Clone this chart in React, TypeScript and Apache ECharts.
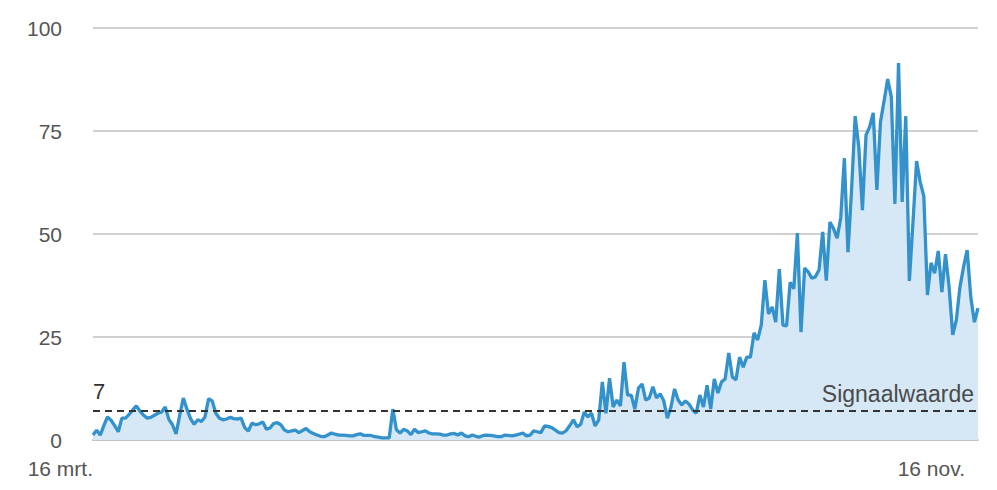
import React, { useEffect, useRef } from "react";
import * as echarts from "echarts";

const START_DATE = "2020-03-16";
const MONTHS_NL = ["jan.", "feb.", "mrt.", "apr.", "mei", "jun.", "jul.", "aug.", "sep.", "okt.", "nov.", "dec."];
const SHOWN_LABELS = ["16 mrt.", "16 nov."];
const Y_TICKS = [0, 25, 50, 75, 100];
const SIGNAL_VALUE = 7;
const SIGNAL_LABEL = "Signaalwaarde";

// Daily values, 16 mrt. – 16 nov.
const valuesSpring = [
  1.2, 2.4, 1.2, 3.5, 5.6, 4.8, 3.5, 2.0, 5.3, 5.3, 6.2, 7.3, 8.3, 7.0, 6.0, 5.3, 5.5, 6.0, 6.5, 6.8,
  8.0, 5.0, 3.7, 1.5, 6.0, 10.2, 7.5, 5.2, 3.8, 4.9, 4.5, 5.6, 10.0, 9.5, 6.5, 5.3, 4.9, 5.1, 5.5, 5.2,
  5.1, 5.3, 3.0, 2.2, 4.1, 3.7, 3.9, 4.4, 2.6, 2.9, 4.0, 4.2, 3.7, 2.4, 2.0, 2.2, 2.4, 1.8, 2.3, 2.8,
  2.0,
];
const valuesSummer = [
  1.6, 1.2, 0.9, 0.8, 1.2, 1.7, 1.4, 1.2, 1.2, 1.1, 1.0, 1.0, 1.3, 1.5, 1.1, 1.1, 1.1, 0.8, 0.7, 0.5,
  0.5, 0.5, 7.5, 2.5, 1.7, 2.6, 2.2, 1.3, 2.6, 1.8, 2.0, 2.2, 1.7, 1.5, 1.5, 1.4, 1.2, 1.2, 1.5, 1.6,
  1.2, 1.7, 1.0, 0.8, 1.2, 0.9, 0.7, 1.1, 1.2, 1.1, 1.0, 0.8, 0.8, 1.2, 1.1, 1.0, 1.2, 1.4, 1.7, 1.0,
  1.2, 2.2, 2.0, 1.8, 3.4, 3.3, 3.0, 2.4, 1.8, 1.7, 2.3, 3.5, 4.9, 3.2, 3.8, 6.8, 5.6, 6.5, 3.4, 4.9,
];
const valuesAutumn = [
  14.1, 6.5, 15.0, 8.0, 9.7, 8.3, 18.9, 10.9, 10.9, 7.5, 12.6, 13.6, 9.7, 10.2, 12.9, 10.2, 11.2, 9.5, 5.3, 8.0,
  12.4, 9.7, 8.5, 9.5, 8.7, 7.3, 6.5, 10.9, 8.0, 13.3, 7.5, 14.8, 11.4, 14.1, 14.8, 21.1, 15.3, 14.6, 20.1,
  17.7, 20.1, 20.1, 26.0, 24.3, 27.9, 38.8, 30.6, 32.3, 28.6, 41.5, 27.9, 27.7, 38.3, 36.7, 50.2, 26.2, 41.7,
  40.8, 39.3, 39.6, 41.3, 50.5, 38.7, 52.9, 51.3, 49.0, 53.9, 68.4, 45.6, 60.7, 78.6, 71.1, 55.8, 74.0, 76.0,
  79.4, 60.7, 77.2, 82.3, 87.6, 83.3, 57.3, 91.5, 57.8, 78.6, 38.6, 52.9, 67.7, 62.6, 59.2, 35.2, 43.0, 40.5,
  45.9, 35.9, 45.1, 37.1, 25.5, 29.1, 37.1, 42.0, 46.1, 34.7, 28.6, 32.0,
];
const values = [...valuesSpring, ...valuesSummer, ...valuesAutumn];

function buildDates(start: string, n: number): string[] {
  const out: string[] = [];
  const d0 = new Date(start + "T12:00:00Z");
  for (let i = 0; i < n; i++) {
    const d = new Date(d0.getTime() + i * 86400000);
    out.push(`${d.getUTCDate()} ${MONTHS_NL[d.getUTCMonth()]}`);
  }
  return out;
}

const FONT = "'Liberation Sans', Arial, Helvetica, sans-serif";

export default function App() {
  const ref = useRef<HTMLDivElement>(null);
  useEffect(() => {
    if (!ref.current) return;
    const chart = echarts.init(ref.current, undefined, { renderer: "svg" });
    const dates = buildDates(START_DATE, values.length);
    const lastShown = SHOWN_LABELS[SHOWN_LABELS.length - 1];
    chart.setOption({
      animation: false,
      textStyle: { fontFamily: FONT },
      grid: { left: 93, right: 19, top: 28, bottom: 50, containLabel: false },
      xAxis: {
        type: "category",
        data: dates,
        boundaryGap: false,
        axisTick: { show: false },
        axisLine: { show: true, lineStyle: { color: "#c2c2c2", width: 2 } },
        axisLabel: {
          interval: (_i: number, v: string) => SHOWN_LABELS.includes(v),
          align: "right",
          margin: 18,
          fontSize: 21,
          color: "#555555",
          fontFamily: FONT,
          formatter: (v: string) => (v === lastShown ? `{last|${v}}` : `{first|${v}}`),
          rich: {
            first: { fontSize: 21, color: "#555555", fontFamily: FONT },
            last: { fontSize: 21, color: "#555555", fontFamily: FONT, padding: [0, 13, 0, 0] },
          },
        },
        splitLine: { show: false },
      },
      yAxis: {
        type: "value",
        min: Y_TICKS[0],
        max: Y_TICKS[Y_TICKS.length - 1],
        interval: Y_TICKS[1] - Y_TICKS[0],
        axisLine: { show: false },
        axisTick: { show: false },
        axisLabel: { margin: 31, fontSize: 21, color: "#555555", fontFamily: FONT },
        splitLine: { lineStyle: { color: "#c2c2c2", width: 1.5 } },
      },
      series: [
        {
          type: "line",
          data: values,
          symbol: "none",
          lineStyle: { color: "#3391cc", width: 3.3 },
          itemStyle: { color: "#3391cc" },
          areaStyle: { color: "#d6e8f5", opacity: 1 },
          z: 3,
          markLine: {
            silent: true,
            symbol: "none",
            animation: false,
            lineStyle: { type: [7, 5], color: "#333333", width: 1.8 },
            data: [
              {
                yAxis: SIGNAL_VALUE,
                label: {
                  show: true,
                  position: "insideEndTop",
                  formatter: SIGNAL_LABEL,
                  fontSize: 23,
                  color: "#4a4a4a",
                  fontFamily: FONT,
                  distance: [4, 6],
                },
              },
              {
                yAxis: SIGNAL_VALUE,
                lineStyle: { color: "rgba(0,0,0,0)", width: 0 },
                label: {
                  show: true,
                  position: "insideStartTop",
                  formatter: String(SIGNAL_VALUE),
                  fontSize: 22,
                  color: "#333333",
                  fontFamily: FONT,
                  distance: [0, 9],
                },
              },
            ],
          },
        },
      ],
    });
    return () => chart.dispose();
  }, []);
  return <div ref={ref} style={{ width: 997, height: 490, position: "absolute", left: 0, top: 0 }} />;
}
